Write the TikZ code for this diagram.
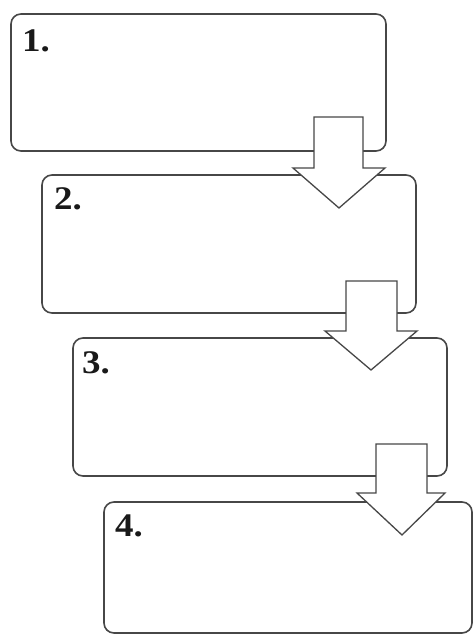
\documentclass[tikz,border=0pt]{standalone}
\usepackage{fontspec}
\setmainfont{Liberation Serif}
\begin{document}
\begin{tikzpicture}[x=1pt,y=-1pt,
  box/.style={draw=black!72, line width=1.6pt, rounded corners=10pt, fill=white, inner sep=0pt},
  lbl/.style={inner sep=0pt, anchor=base west, font=\fontsize{33}{33}\selectfont\bfseries, text=black!90},
  downarrow/.style={draw=black!72, line width=1.3pt, fill=white, line join=miter}]
\useasboundingbox (0,0) rectangle (474,637);
% boxes
\node[box, minimum width=375pt, minimum height=137pt] (b1) at (198.5,82.5) {};
\node[box, minimum width=374pt, minimum height=138pt] (b2) at (229,244) {};
\node[box, minimum width=374pt, minimum height=138pt] (b3) at (260,407) {};
\node[box, minimum width=368pt, minimum height=131pt] (b4) at (288,567.5) {};
% labels
\node[lbl] (l1) at (22,51) {\scalebox{1.12}[1]{1.}};
\node[lbl] (l2) at (54,209) {\scalebox{1.12}[1]{2.}};
\node[lbl] (l3) at (82,373) {\scalebox{1.12}[1]{3.}};
\node[lbl] (l4) at (115,536) {\scalebox{1.12}[1]{4.}};
% arrows
\draw[downarrow] (314,117) -- (363,117) -- (363,168) -- (385,168) -- (339,208) -- (293,168) -- (314,168) -- cycle;
\draw[downarrow] (346,281) -- (397,281) -- (397,331) -- (417,331) -- (371,370) -- (325,331) -- (346,331) -- cycle;
\draw[downarrow] (376,444) -- (427,444) -- (427,493) -- (445,493) -- (402,535) -- (357,493) -- (376,493) -- cycle;
\end{tikzpicture}
\end{document}
